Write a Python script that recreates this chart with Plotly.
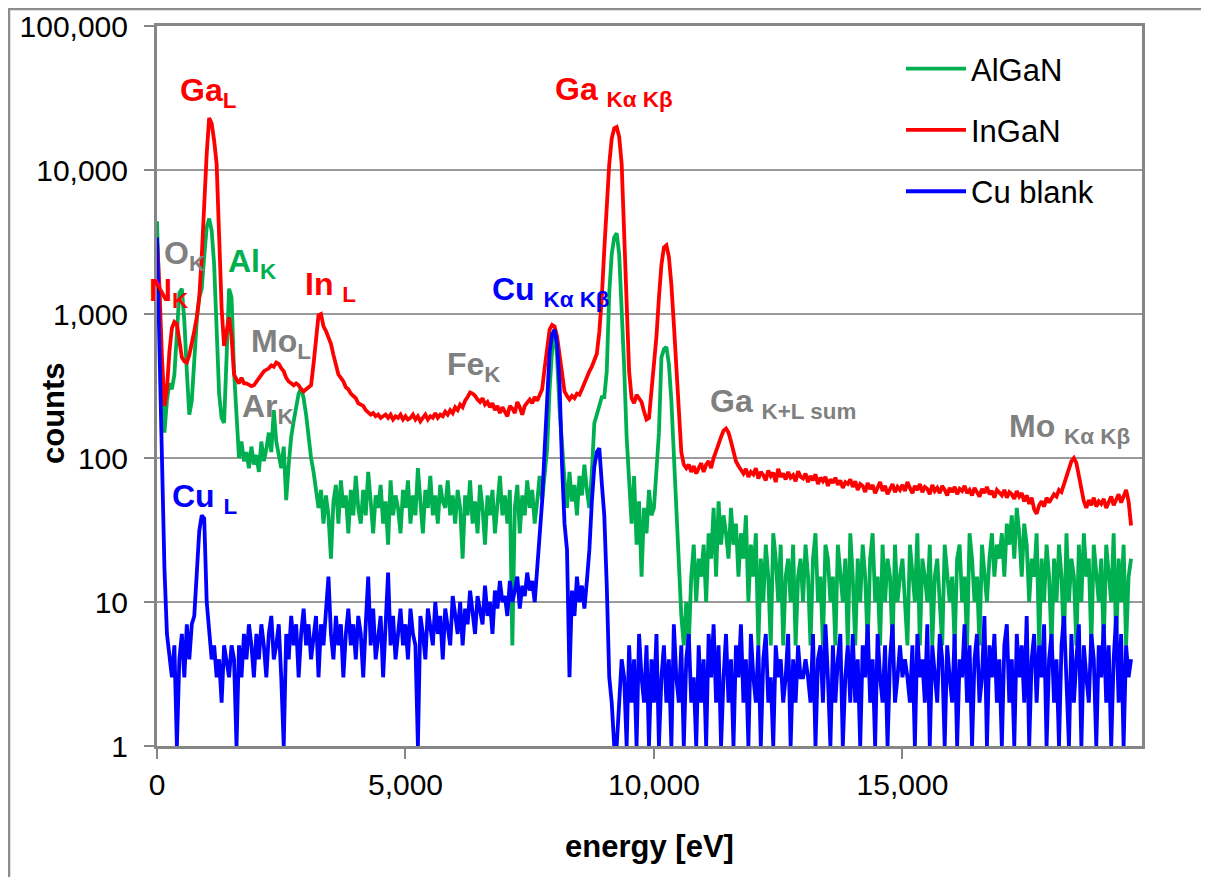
import plotly.graph_objects as go

# energy channels [eV]
energy = list(range(0, 19601, 50))

# counts, one row per keV
ingan = [
    3300, 1500, 500, 230, 300, 550, 800, 880, 850, 650, 500, 470, 460, 520, 620, 760, 950, 1300, 2500, 6000,
    13000, 23000, 21000, 16000, 11000, 3500, 1100, 600, 780, 950, 700, 380, 350, 330, 360, 330, 330, 320, 315, 320,
    340, 360, 380, 400, 410, 420, 440, 430, 460, 450, 420, 400, 360, 340, 330, 320, 330, 320, 300, 290,
    300, 310, 320, 450, 700, 980, 1000, 820, 760, 680, 620, 520, 450, 380, 360, 340, 310, 300, 280, 270,
    260, 240, 235, 230, 215, 205, 200, 205, 195, 200, 190, 195, 200, 190, 200, 185, 195, 190, 200, 185,
    195, 185, 190, 200, 185, 195, 180, 190, 200, 185, 195, 190, 205, 190, 200, 195, 210, 200, 215, 205,
    225, 215, 235, 225, 250, 265, 285, 280, 270, 255, 245, 260, 235, 245, 225, 240, 215, 230, 205, 225,
    210, 195, 230, 220, 205, 245, 225, 200, 230, 245, 255, 240, 265, 250, 270, 300, 420, 600, 780, 840,
    820, 700, 520, 360, 290, 270, 255, 270, 260, 280, 275, 300, 330, 370, 400, 430, 480, 530, 750, 1300,
    2800, 6000, 11000, 16500, 19500, 19900, 17000, 11000, 4000, 1000, 400, 260, 240, 275, 260, 245, 210, 185, 190, 280,
    420, 700, 1300, 2200, 2900, 3000, 2500, 1600, 850, 400, 180, 110, 90, 85, 90, 80, 88, 78, 85, 92,
    80, 90, 95, 85, 100, 110, 125, 140, 155, 160, 150, 130, 110, 95, 88, 82, 78, 84, 74, 80,
    77, 85, 72, 80, 76, 70, 82, 75, 79, 68, 84, 74, 78, 71, 80, 73, 76, 69, 81, 74,
    72, 78, 68, 75, 70, 77, 66, 73, 69, 74, 64, 71, 67, 73, 65, 70, 62, 68, 66, 71,
    63, 69, 60, 66, 64, 58, 67, 61, 65, 57, 63, 68, 59, 64, 56, 62, 66, 58, 63, 60,
    65, 59, 68, 62, 57, 64, 60, 66, 58, 63, 61, 56, 65, 59, 62, 57, 64, 60, 55, 62,
    58, 63, 56, 61, 59, 64, 57, 60, 55, 62, 58, 54, 61, 57, 63, 56, 59, 53, 60, 57,
    55, 60, 53, 58, 56, 52, 59, 54, 57, 50, 55, 48, 53, 44, 41, 47, 50, 46, 53, 49,
    52, 56, 54, 60, 58, 65, 72, 84, 95, 100, 92, 74, 58, 50, 45, 51, 47, 53, 46, 50,
    48, 52, 45, 50, 54, 47, 51, 56, 49, 55, 60, 50, 34,
]

algan = [
    4400, 1200, 300, 150, 250, 330, 300, 380, 800, 1400, 1500, 900, 400, 200, 250, 500, 900, 1300, 1500, 2500,
    4000, 4600, 3800, 2200, 800, 280, 190, 175, 500, 1500, 1300, 400, 200, 100, 130, 95, 110, 85, 120, 90,
    105, 80, 130, 95, 115, 150, 110, 215, 130, 100, 85, 120, 51, 90, 140, 180, 230, 280, 305, 260,
    200, 140, 100, 80, 60, 45, 60, 35, 55, 40, 20, 50, 65, 35, 70, 45, 55, 30, 60, 40,
    75, 45, 35, 60, 40, 80, 50, 30, 55, 45, 65, 35, 50, 25, 70, 40, 55, 45, 30, 60,
    45, 70, 35, 55, 40, 85, 50, 30, 60, 45, 75, 40, 55, 35, 65, 50, 45, 70, 40, 55,
    35, 60, 45, 20, 55, 40, 70, 35, 50, 30, 65, 45, 25, 55, 40, 60, 30, 50, 75, 40,
    55, 35, 60, 5, 45, 65, 30, 55, 40, 70, 45, 60, 35, 50, 75, 51, 80, 115, 300, 560,
    780, 500, 220, 110, 70, 45, 80, 50, 65, 40, 75, 55, 90, 60, 45, 80, 175, 200, 225, 265,
    265, 400, 1400, 2600, 3400, 3640, 2600, 1200, 430, 140, 60, 35, 75, 25, 50, 15, 45, 30, 60, 40,
    45, 80, 150, 500, 570, 590, 450, 250, 110, 51, 17, 8, 5, 10, 5, 15, 25, 10, 20, 15,
    25, 10, 30, 20, 45, 15, 50, 25, 40, 30, 20, 45, 25, 35, 15, 30, 20, 40, 10, 25,
    15, 30, 5, 20, 10, 25, 15, 5, 30, 20, 10, 25, 5, 15, 20, 10, 25, 5, 15, 20,
    10, 25, 15, 5, 20, 30, 10, 15, 5, 25, 20, 10, 15, 5, 25, 15, 10, 20, 5, 30,
    15, 5, 20, 10, 25, 15, 5, 20, 30, 10, 15, 5, 25, 10, 20, 15, 5, 25, 10, 15,
    20, 10, 5, 25, 15, 10, 30, 5, 20, 15, 10, 25, 5, 15, 20, 10, 5, 25, 15, 10,
    15, 5, 20, 25, 10, 15, 5, 30, 20, 10, 15, 5, 25, 15, 10, 20, 30, 15, 25, 20,
    30, 15, 35, 25, 40, 20, 45, 30, 15, 35, 25, 10, 20, 15, 30, 5, 20, 10, 25, 15,
    5, 20, 10, 25, 15, 5, 30, 10, 20, 15, 5, 25, 10, 30, 15, 20, 5, 25, 15, 10,
    20, 5, 25, 15, 10, 30, 5, 20, 10, 25, 5, 15, 20,
]

cu_blank = [
    3400, 560, 97, 17, 6, 4, 3, 5, 1, 4, 6, 3, 7, 4, 7, 8, 15, 31, 40, 38,
    10, 6, 4, 5, 3, 4, 2, 5, 4, 3, 5, 4, 1, 5, 3, 6, 4, 7, 5, 3,
    6, 4, 7, 5, 3, 6, 8, 4, 5, 7, 3, 1, 6, 4, 8, 5, 7, 3, 6, 9,
    5, 7, 4, 6, 8, 3, 7, 5, 9, 15, 6, 4, 8, 5, 7, 3, 6, 9, 5, 7,
    4, 8, 6, 3, 7, 15, 5, 9, 4, 6, 8, 3, 7, 16, 5, 8, 4, 6, 9, 5,
    7, 4, 9, 6, 5, 1, 8, 6, 4, 9, 7, 5, 10, 6, 8, 4, 9, 7, 5, 11,
    8, 6, 10, 5, 9, 7, 12, 8, 6, 11, 9, 7, 13, 8, 10, 6, 12, 9, 14, 10,
    11, 8, 14, 10, 12, 15, 9, 13, 11, 16, 12, 14, 10, 17, 27, 50, 115, 280, 540, 720,
    780, 620, 330, 90, 35, 23, 3, 12, 8, 15, 10, 13, 9, 14, 23, 50, 87, 110, 117, 67,
    40, 13, 3, 2, 1, 1, 2, 4, 3, 1, 5, 2, 4, 1, 6, 3, 2, 5, 1, 4,
    2, 6, 1, 3, 5, 2, 4, 1, 7, 3, 2, 5, 1, 4, 6, 2, 3, 1, 5, 2,
    4, 1, 6, 3, 7, 2, 5, 1, 3, 6, 2, 4, 1, 5, 3, 7, 2, 4, 1, 6,
    3, 2, 5, 1, 4, 6, 2, 3, 1, 5, 3, 4, 2, 3, 6, 1, 4, 2, 5, 3,
    3, 4, 3, 2, 6, 1, 4, 5, 2, 7, 3, 1, 5, 2, 4, 6, 1, 3, 5, 2,
    6, 2, 4, 1, 5, 3, 7, 2, 4, 1, 6, 3, 2, 5, 1, 4, 7, 2, 3, 5,
    3, 4, 3, 2, 5, 1, 6, 3, 4, 2, 7, 1, 5, 3, 2, 6, 4, 1, 5, 3,
    2, 6, 1, 4, 3, 7, 2, 5, 1, 4, 6, 2, 3, 8, 1, 5, 3, 6, 2, 4,
    1, 5, 7, 2, 4, 1, 6, 3, 5, 2, 8, 1, 4, 6, 2, 5, 3, 7, 1, 4,
    6, 2, 4, 1, 5, 8, 3, 1, 6, 2, 4, 7, 1, 5, 3, 2, 6, 4, 1, 5,
    3, 7, 2, 5, 1, 4, 8, 2, 6, 1, 5, 3, 4,
]

series_names = ["AlGaN", "InGaN", "Cu blank"]
series_colors = ["#00B050", "#FF0000", "#0000FF"]

y_tick_vals = [1, 10, 100, 1000, 10000, 100000]
y_tick_text = ["1", "10", "100", "1,000", "10,000", "100,000"]
x_tick_vals = [0, 5000, 10000, 15000]
x_tick_text = ["0", "5,000", "10,000", "15,000"]

GRAY = "#808080"
FONT = "Liberation Sans, Arial, sans-serif"

# page sits 8px in from the window edge; plot area on the page: 157..1142 x 26..746
def px_x(px):
    return (px - 157) / 985


def px_y(py):
    return (746 - py) / 720


# peak labels: text, colour, left edge px, middle px
peak_labels = [
    ("Ga<sub>L</sub>", "#FF0000", 178, 92),
    ("O<sub>K</sub>", GRAY, 162, 255),
    ("N<sub>K</sub>", "#FF0000", 147, 292),
    ("Al<sub>K</sub>", "#00B050", 226, 263),
    ("In <sub>L</sub>", "#FF0000", 303, 286),
    ("Mo<sub>L</sub>", GRAY, 249, 343),
    ("Ar<sub>K</sub>", GRAY, 240, 408),
    ("Cu <sub>L</sub>", "#0000FF", 170, 498),
    ("Fe<sub>K</sub>", GRAY, 445, 366),
    ("Cu <sub>Kα Kβ</sub>", "#0000FF", 490, 291),
    ("Ga <sub>Kα Kβ</sub>", "#FF0000", 553, 91),
    ("Ga <sub>K+L sum</sub>", GRAY, 708, 403),
    ("Mo <sub>Kα Kβ</sub>", GRAY, 1007, 428),
]

fig = go.Figure()
for name, color, counts in zip(series_names, series_colors, [algan, ingan, cu_blank]):
    fig.add_trace(go.Scatter(
        x=energy, y=counts, mode="lines", name=name, legendgroup=name,
        line=dict(color=color, width=3.8),
    ))

for text, color, lx, my in peak_labels:
    fig.add_annotation(
        text=text, x=px_x(lx), y=px_y(my), xref="paper", yref="paper",
        xanchor="left", yanchor="middle", showarrow=False,
        font=dict(family=FONT, size=32, color=color, weight="bold"),
    )

fig.add_annotation(
    text="counts", x=px_x(53), y=px_y(413), xref="paper", yref="paper",
    xanchor="center", yanchor="middle", textangle=-90, showarrow=False,
    font=dict(family=FONT, size=31, color="black", weight="bold"),
)

# outer chart frame
fig.add_shape(
    type="rect", xref="paper", yref="paper",
    x0=px_x(9), x1=px_x(1207.5), y0=px_y(890), y1=px_y(9),
    line=dict(color="#8c8c8c", width=2.5),
)

fig.update_layout(
    width=1201, height=869,
    margin=dict(l=149, r=67, t=18, b=131),
    paper_bgcolor="white", plot_bgcolor="white",
    font=dict(family=FONT, size=30, color="black"),
    showlegend=True,
    legend=dict(
        x=px_x(901), y=px_y(42), xanchor="left", yanchor="top",
        bgcolor="rgba(0,0,0,0)", font=dict(size=31),
        tracegroupgap=18, itemwidth=60,
    ),
    xaxis=dict(
        range=[0, 19820], tickvals=x_tick_vals, ticktext=x_tick_text,
        showgrid=False, zeroline=False, automargin=False,
        showline=True, linecolor="#868686", linewidth=3, mirror=True,
        ticks="outside", ticklen=10, tickcolor="#868686", tickwidth=1.5,
        ticklabelstandoff=0,
        title=dict(text="<b>energy [eV]</b>", font=dict(size=31), standoff=36),
    ),
    yaxis=dict(
        type="log", range=[0, 5], tickvals=y_tick_vals, ticktext=y_tick_text,
        showgrid=True, gridcolor="#9a9a9a", gridwidth=1.5, zeroline=False,
        automargin=False,
        showline=True, linecolor="#868686", linewidth=3, mirror=True,
        ticks="outside", ticklen=10, tickcolor="#868686", tickwidth=1.5,
        ticklabelstandoff=10,
    ),
)

fig.write_html("out.html")
